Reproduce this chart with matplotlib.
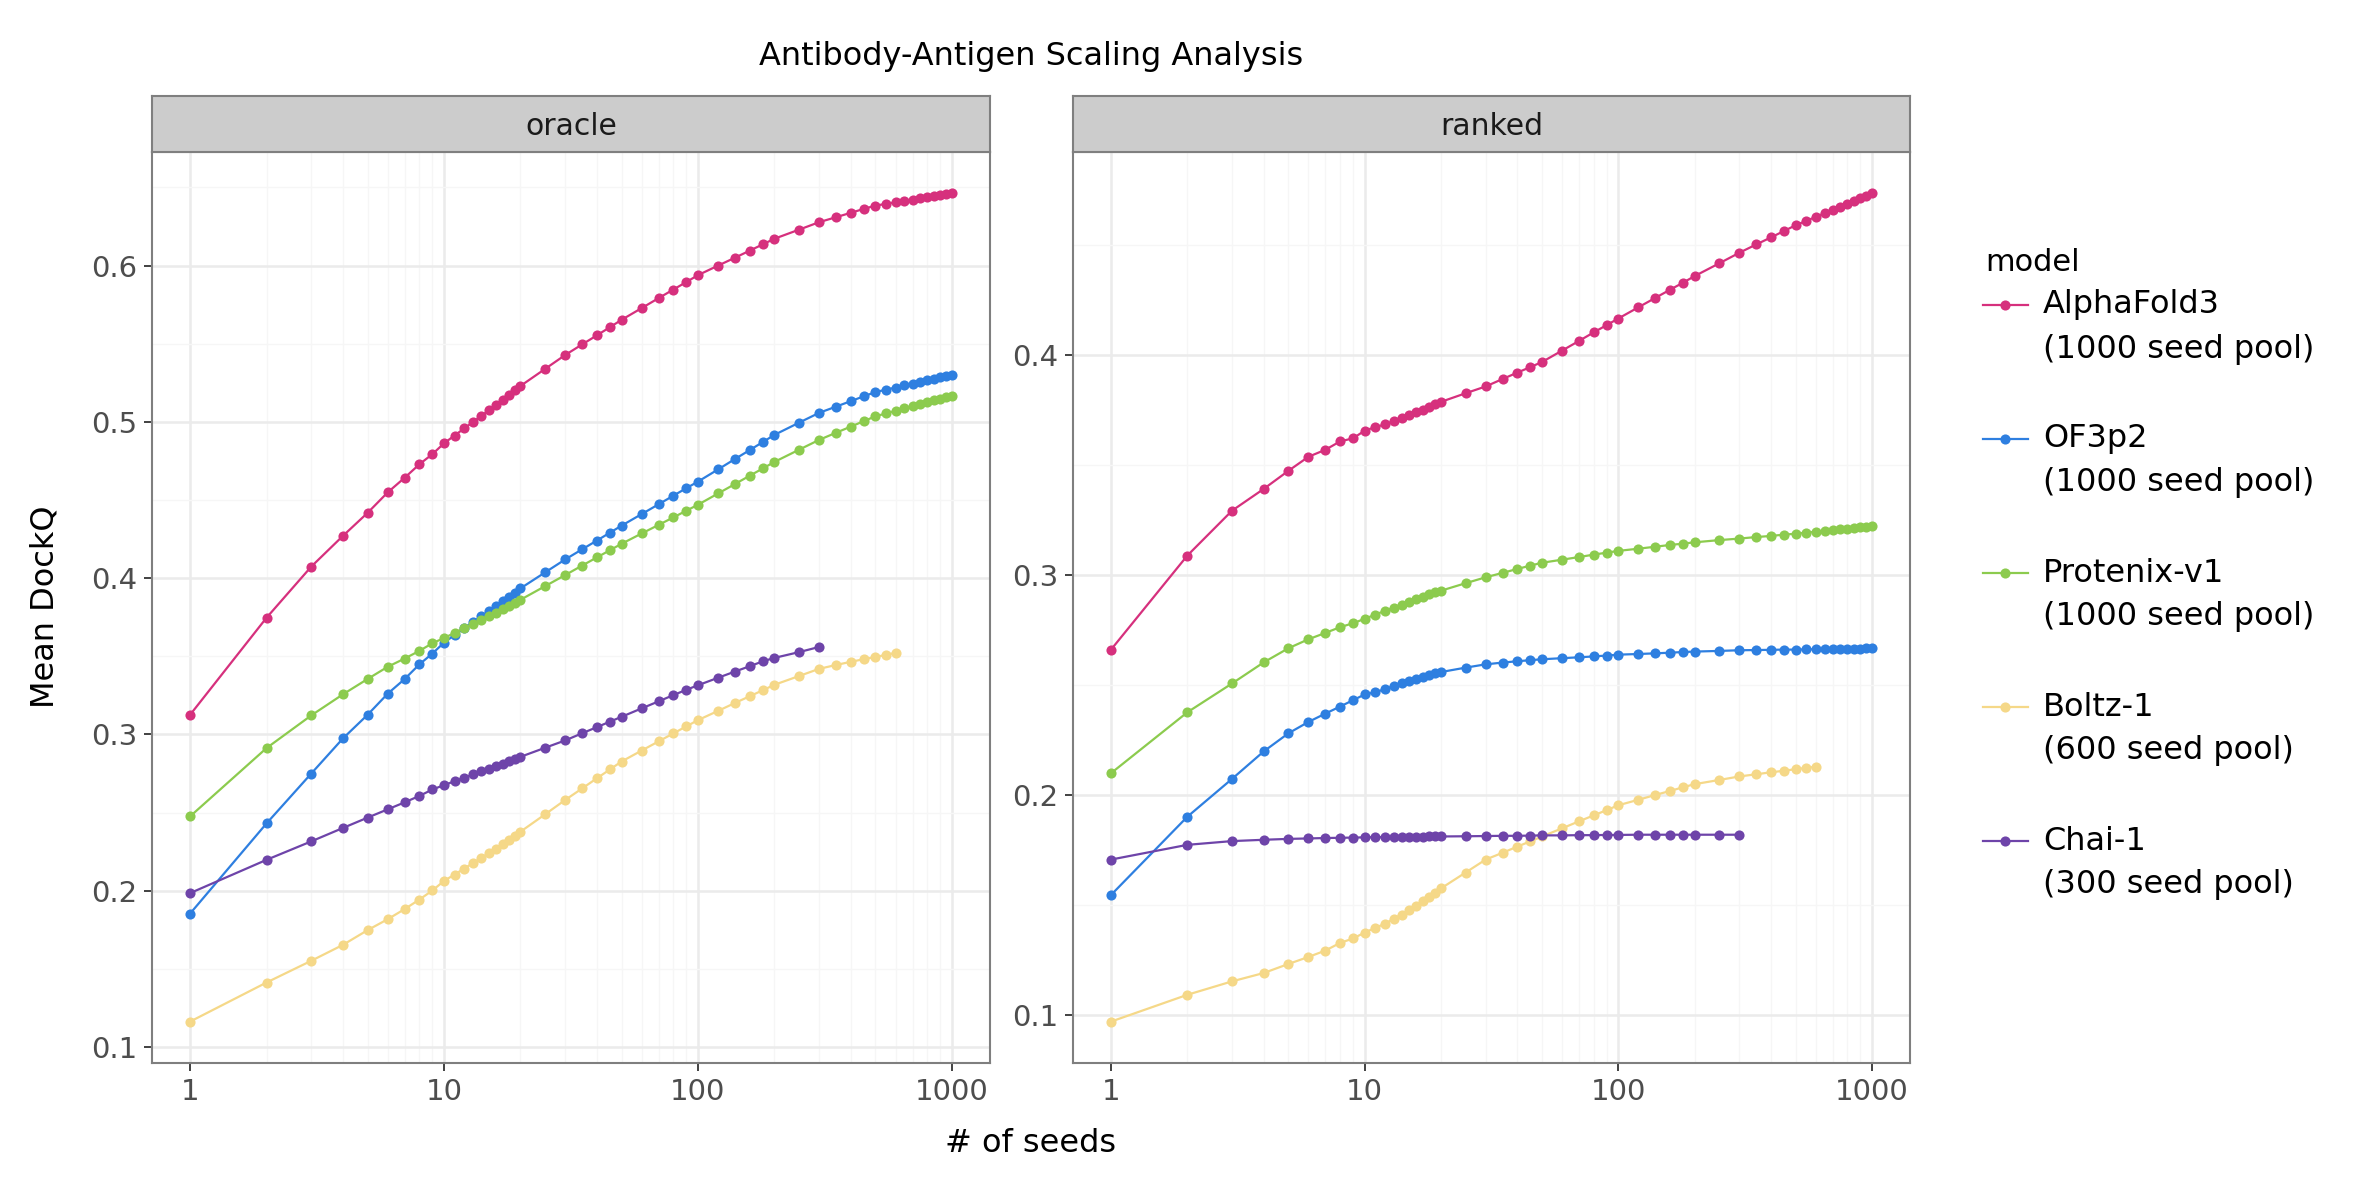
import numpy as np
import matplotlib
matplotlib.use("Agg")
import matplotlib.pyplot as plt
from matplotlib.lines import Line2D

seeds = [1, 2, 3, 4, 5, 6, 7, 8, 9, 10, 11, 12, 13, 14, 15, 16, 17, 18, 19, 20,
         25, 30, 35, 40, 45, 50, 60, 70, 80, 90, 100, 120, 140, 160, 180, 200,
         250, 300, 350, 400, 450, 500, 550, 600, 650, 700, 750, 800, 850, 900, 950, 1000]

models = ["AlphaFold3", "OF3p2", "Protenix-v1", "Boltz-1", "Chai-1"]
pools = ["1000", "1000", "1000", "600", "300"]
colors = ["#D6307D", "#2E7FE0", "#8CCB4E", "#F5D888", "#6E44A9"]

# oracle facet
af3_oracle = [0.3126, 0.3747, 0.4074, 0.4271, 0.4418, 0.4549, 0.4643, 0.4729, 0.4794, 0.4863,
              0.4913, 0.4958, 0.4999, 0.5038, 0.5074, 0.5110, 0.5142, 0.5172, 0.5201, 0.5230,
              0.5339, 0.5428, 0.5496, 0.5554, 0.5606, 0.5653, 0.5728, 0.5792, 0.5847, 0.5895,
              0.5939, 0.6000, 0.6051, 0.6096, 0.6136, 0.6172, 0.6230, 0.6278, 0.6310, 0.6338,
              0.6363, 0.6384, 0.6395, 0.6405, 0.6414, 0.6422, 0.6430, 0.6437, 0.6444, 0.6450,
              0.6456, 0.6462]
of3_oracle = [0.1854, 0.2431, 0.2750, 0.2975, 0.3126, 0.3261, 0.3355, 0.3449, 0.3518, 0.3588,
              0.3636, 0.3680, 0.3719, 0.3756, 0.3788, 0.3820, 0.3851, 0.3880, 0.3907, 0.3935,
              0.4037, 0.4120, 0.4185, 0.4241, 0.4291, 0.4336, 0.4410, 0.4473, 0.4528, 0.4576,
              0.4618, 0.4696, 0.4763, 0.4820, 0.4871, 0.4917, 0.4995, 0.5058, 0.5098, 0.5133,
              0.5164, 0.5191, 0.5206, 0.5220, 0.5233, 0.5245, 0.5256, 0.5266, 0.5276, 0.5285,
              0.5294, 0.5302]
ptx_oracle = [0.2476, 0.2913, 0.3122, 0.3257, 0.3355, 0.3433, 0.3486, 0.3535, 0.3584, 0.3617,
              0.3650, 0.3680, 0.3708, 0.3734, 0.3758, 0.3780, 0.3801, 0.3821, 0.3840, 0.3862,
              0.3949, 0.4020, 0.4081, 0.4133, 0.4179, 0.4220, 0.4286, 0.4341, 0.4389, 0.4432,
              0.4470, 0.4542, 0.4603, 0.4656, 0.4702, 0.4744, 0.4822, 0.4885, 0.4931, 0.4970,
              0.5005, 0.5036, 0.5054, 0.5071, 0.5086, 0.5100, 0.5113, 0.5126, 0.5137, 0.5148,
              0.5158, 0.5168]
boltz_oracle = [0.1163, 0.1413, 0.1552, 0.1654, 0.1748, 0.1818, 0.1883, 0.1944, 0.2002, 0.2063,
                0.2104, 0.2142, 0.2177, 0.2210, 0.2240, 0.2269, 0.2297, 0.2324, 0.2349, 0.2378,
                0.2489, 0.2581, 0.2655, 0.2720, 0.2776, 0.2827, 0.2897, 0.2956, 0.3007, 0.3052,
                0.3092, 0.3151, 0.3202, 0.3245, 0.3283, 0.3318, 0.3374, 0.3420, 0.3445, 0.3465,
                0.3482, 0.3495, 0.3510, 0.3522]
chai_oracle = [0.1985, 0.2198, 0.2316, 0.2402, 0.2468, 0.2521, 0.2566, 0.2607, 0.2648, 0.2676,
               0.2701, 0.2724, 0.2744, 0.2764, 0.2782, 0.2798, 0.2814, 0.2829, 0.2843, 0.2857,
               0.2915, 0.2962, 0.3008, 0.3047, 0.3082, 0.3113, 0.3167, 0.3212, 0.3252, 0.3286,
               0.3315, 0.3363, 0.3403, 0.3437, 0.3468, 0.3490, 0.3527, 0.3560]

# ranked facet
af3_ranked = [0.2660, 0.3088, 0.3292, 0.3391, 0.3473, 0.3537, 0.3569, 0.3607, 0.3621, 0.3656,
              0.3672, 0.3684, 0.3699, 0.3713, 0.3727, 0.3740, 0.3752, 0.3764, 0.3775, 0.3787,
              0.3826, 0.3857, 0.3891, 0.3920, 0.3945, 0.3968, 0.4020, 0.4064, 0.4103, 0.4136,
              0.4166, 0.4217, 0.4260, 0.4297, 0.4329, 0.4359, 0.4417, 0.4465, 0.4503, 0.4535,
              0.4564, 0.4590, 0.4610, 0.4628, 0.4645, 0.4660, 0.4675, 0.4688, 0.4701, 0.4713,
              0.4724, 0.4735]
of3_ranked = [0.1544, 0.1900, 0.2072, 0.2197, 0.2279, 0.2331, 0.2369, 0.2401, 0.2430, 0.2456,
              0.2466, 0.2480, 0.2494, 0.2507, 0.2518, 0.2528, 0.2537, 0.2545, 0.2552, 0.2558,
              0.2578, 0.2593, 0.2601, 0.2607, 0.2612, 0.2616, 0.2621, 0.2625, 0.2629, 0.2633,
              0.2637, 0.2640, 0.2643, 0.2646, 0.2649, 0.2651, 0.2654, 0.2657, 0.2658, 0.2659,
              0.2660, 0.2660, 0.2661, 0.2662, 0.2662, 0.2663, 0.2664, 0.2664, 0.2665, 0.2665,
              0.2666, 0.2666]
ptx_ranked = [0.2098, 0.2375, 0.2506, 0.2602, 0.2666, 0.2707, 0.2736, 0.2762, 0.2780, 0.2800,
              0.2819, 0.2836, 0.2851, 0.2865, 0.2878, 0.2890, 0.2901, 0.2911, 0.2920, 0.2928,
              0.2962, 0.2989, 0.3009, 0.3027, 0.3042, 0.3055, 0.3069, 0.3081, 0.3092, 0.3101,
              0.3109, 0.3119, 0.3128, 0.3136, 0.3142, 0.3148, 0.3158, 0.3165, 0.3172, 0.3177,
              0.3183, 0.3187, 0.3192, 0.3196, 0.3200, 0.3203, 0.3207, 0.3210, 0.3213, 0.3216,
              0.3218, 0.3221]
boltz_ranked = [0.0968, 0.1090, 0.1151, 0.1189, 0.1230, 0.1262, 0.1291, 0.1326, 0.1346, 0.1373,
                0.1394, 0.1413, 0.1435, 0.1455, 0.1474, 0.1495, 0.1515, 0.1535, 0.1555, 0.1574,
                0.1646, 0.1705, 0.1736, 0.1764, 0.1788, 0.1810, 0.1847, 0.1879, 0.1906, 0.1930,
                0.1952, 0.1977, 0.1999, 0.2017, 0.2034, 0.2048, 0.2067, 0.2083, 0.2093, 0.2102,
                0.2109, 0.2116, 0.2122, 0.2127]
chai_ranked = [0.1705, 0.1772, 0.1789, 0.1795, 0.1799, 0.1801, 0.1803, 0.1804, 0.1805, 0.1806,
               0.1807, 0.1807, 0.1808, 0.1808, 0.1809, 0.1809, 0.1809, 0.1810, 0.1810, 0.1810,
               0.1811, 0.1812, 0.1813, 0.1813, 0.1814, 0.1815, 0.1815, 0.1816, 0.1816, 0.1817,
               0.1817, 0.1818, 0.1818, 0.1818, 0.1818, 0.1818, 0.1818, 0.1818]

facets = {
    "oracle": [af3_oracle, of3_oracle, ptx_oracle, boltz_oracle, chai_oracle],
    "ranked": [af3_ranked, of3_ranked, ptx_ranked, boltz_ranked, chai_ranked],
}
yticks = {"oracle": [0.1, 0.2, 0.3, 0.4, 0.5, 0.6], "ranked": [0.1, 0.2, 0.3, 0.4]}
xticks = [1, 10, 100, 1000]
xtick_labels = ["1", "10", "100", "1000"]

W, H = 2380, 1178
fig = plt.figure(figsize=(W / 100, H / 100), dpi=100)
plt.rcParams['font.family'] = ['DejaVu Sans']

border = "#7F7F7F"
panel_x = {"oracle": (152, 990), "ranked": (1073, 1910)}
top, bottom, strip_top = 152, 1063, 96

for name, series in facets.items():
    x0, x1 = panel_x[name]
    ax = fig.add_axes([x0 / W, 1 - bottom / H, (x1 - x0) / W, (bottom - top) / H])
    for vals, c in zip(series, colors):
        ax.plot(seeds[:len(vals)], vals, color=c, lw=1.6, marker="o", ms=7.3,
                markeredgewidth=0, zorder=3)
    ax.set_xscale("log")
    ax.set_xticks(xticks, labels=xtick_labels)
    ax.set_xticks([m * 10 ** e for e in range(3) for m in range(2, 10)], minor=True)
    ax.set_yticks(yticks[name], labels=[f"{t:.1f}" for t in yticks[name]])
    ax.set_yticks([t + 0.05 for t in yticks[name]], minor=True)
    ax.set_xlim(10 ** -0.15, 10 ** 3.15)
    lo = min(min(v) for v in series)
    hi = max(max(v) for v in series)
    pad = (hi - lo) * 0.05
    ax.set_ylim(lo - pad, hi + pad)
    ax.tick_params(which="major", length=5.5, width=1.3, color="#333333",
                   labelsize=21, labelcolor="#4D4D4D", pad=5)
    ax.tick_params(which="minor", length=0)
    ax.grid(which="major", color="#EBEBEB", lw=1.8, zorder=0)
    ax.grid(which="minor", color="#F6F6F6", lw=1.0, zorder=0)
    ax.set_axisbelow(True)
    for s in ax.spines.values():
        s.set_color(border)
        s.set_linewidth(1.5)

    sax = fig.add_axes([x0 / W, 1 - top / H, (x1 - x0) / W, (top - strip_top) / H])
    sax.set_facecolor("#CCCCCC")
    sax.set_xticks([])
    sax.set_yticks([])
    for s in sax.spines.values():
        s.set_color(border)
        s.set_linewidth(1.5)
    sax.text(0.5, 0.45, name, ha="center", va="center", fontsize=21.5, color="#1A1A1A",
             transform=sax.transAxes)

fig.text(1031 / W, 1 - 56 / H, "Antibody-Antigen Scaling Analysis", ha="center",
         va="center", fontsize=23)
fig.text(1031 / W, 1 - 1143 / H, "# of seeds", ha="center", va="center", fontsize=23)
fig.text(45 / W, 1 - 607 / H, "Mean DockQ", ha="center", va="center", rotation=90,
         fontsize=23)

# legend
fig.text(1985 / W, 1 - 263 / H, "model", ha="left", va="center", fontsize=22)
for i, (m, p, c) in enumerate(zip(models, pools, colors)):
    y1 = 1 - (305 + 134 * i) / H
    y2 = 1 - (349 + 134 * i) / H
    fig.add_artist(Line2D([1983 / W, 2005 / W, 2028 / W], [y1, y1, y1], color=c, lw=1.6,
                          marker="o", ms=7.3, markeredgewidth=0, markevery=[1]))
    fig.text(2043 / W, y1, m, ha="left", va="center", fontsize=23)
    fig.text(2043 / W, y2, f"({p} seed pool)", ha="left", va="center", fontsize=23)

fig.savefig("out.png", dpi=100, facecolor="white")
